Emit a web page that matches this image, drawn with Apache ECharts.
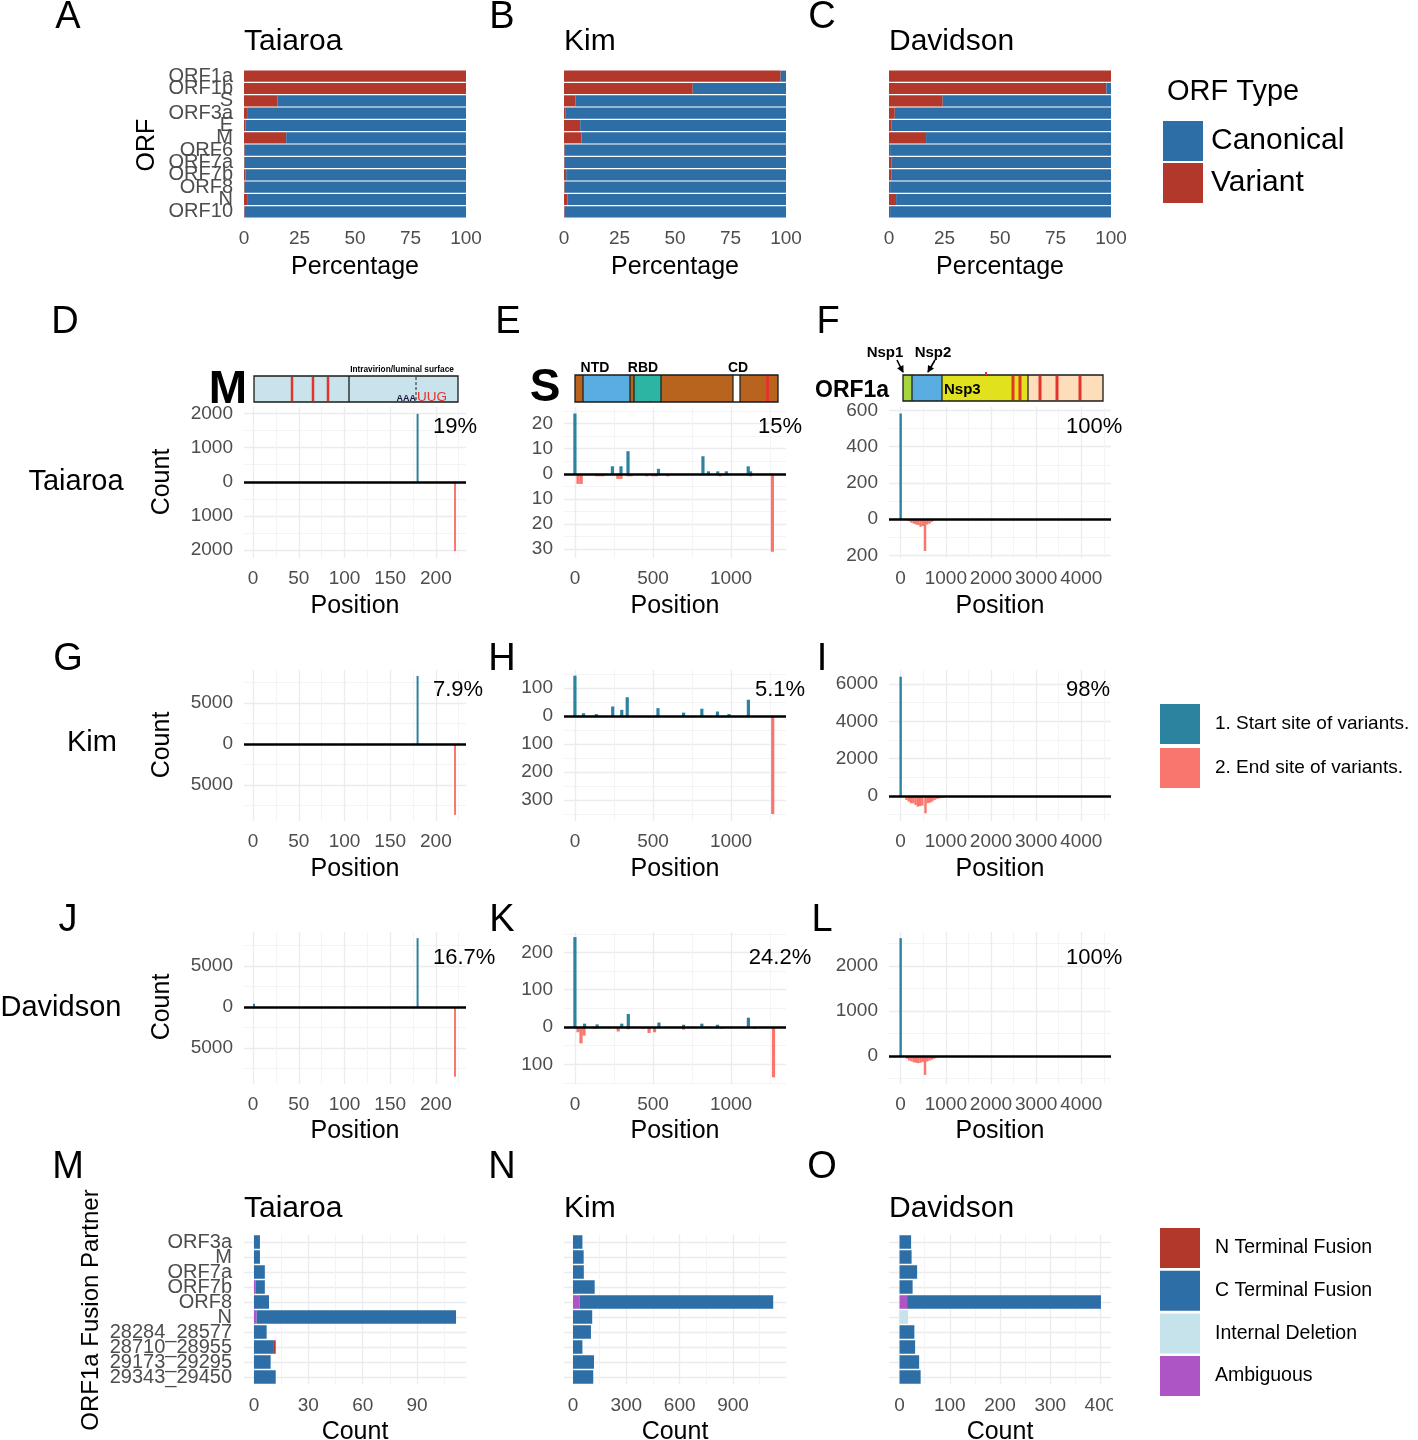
<!DOCTYPE html>
<html>
<head>
<meta charset="utf-8">
<script src="https://cdn.jsdelivr.net/npm/echarts@6/dist/echarts.min.js"></script>
<style>html,body{margin:0;padding:0;background:#fff}#chart{width:1418px;height:1440px}</style>
</head>
<body>
<div id="chart"></div>
<script>
// ---------------- DATA ----------------
const strainNames = ['Taiaroa', 'Kim', 'Davidson'];
const panelLetters = ['A','B','C','D','E','F','G','H','I','J','K','L','M','N','O'];
const orfCategories = ['ORF1a','ORF1b','S','ORF3a','E','M','ORF6','ORF7a','ORF7b','ORF8','N','ORF10'];
const percentTicks = [0, 25, 50, 75, 100];

const variantTaiaroa   = [100, 100, 15, 1.4, 0.6, 19, 0.3, 0.3, 0.6, 0.3, 1.4, 0.3];
const canonicalTaiaroa = [0, 0, 85, 98.6, 99.4, 81, 99.7, 99.7, 99.4, 99.7, 98.6, 99.7];
const variantKim       = [97.6, 58, 5.1, 0.8, 7.3, 7.9, 0.3, 0.3, 1, 0.3, 1.5, 0.3];
const canonicalKim     = [2.4, 42, 94.9, 99.2, 92.7, 92.1, 99.7, 99.7, 99, 99.7, 98.5, 99.7];
const variantDavidson  = [100, 97.9, 24.2, 2.6, 1.2, 16.7, 0.5, 1.2, 1.2, 0.5, 3.2, 0.5];
const canonicalDavidson= [0, 2.1, 75.8, 97.4, 98.8, 83.3, 99.5, 98.8, 98.8, 99.5, 96.8, 99.5];

// position panels: [position, count]; end sites drawn downward (negative)
const mStartTaiaroa = [[180, 1990]];
const mEndTaiaroa   = [[221, -2030]];
const sStartTaiaroa = [[0,24],[240,3],[295,3],[340,9],[535,2],[820,7],[855,1],[915,1],[970,1],[1110,3],[1125,1]];
const sEndTaiaroa   = [[20,-4],[40,-4],[140,-1],[160,-1],[180,-1],[275,-2],[295,-2],[340,-1],[360,-1],[460,-1],[500,-1],[520,-1],[595,-1],[930,-1],[1125,-1],[1265,-31]];
const orf1aStartTaiaroa = [[0, 583]];
const orf1aEndTaiaroa   = [[140,-6],[190,-12],[240,-20],[290,-25],[340,-30],[390,-33],[440,-43],[490,-38],[540,-176],[590,-30],[640,-25],[690,-15],[740,-8]];

const mStartKim = [[180, 8300]];
const mEndKim   = [[221, -8650]];
const sStartKim = [[0,144],[55,10],[137,7],[242,34],[300,22],[335,67],[532,28],[696,12],[813,26],[913,16],[987,7],[1111,58]];
const sEndKim   = [[20,-3],[253,-3],[360,-3],[475,-5],[940,-4],[1267,-350]];
const orf1aStartKim = [[0, 6390]];
const orf1aEndKim   = [[130,-214],[180,-300],[230,-390],[280,-390],[330,-480],[380,-570],[430,-540],[480,-510],[550,-930],[600,-380],[650,-360],[700,-300],[750,-214],[800,-150],[850,-125],[900,-110],[950,-100]];

const mStartDavidson = [[1, 400], [180, 8400]];
const mEndDavidson   = [[221, -8500]];
const sStartDavidson = [[0,241],[62,9],[142,7],[300,9],[342,35],[538,12],[696,6],[813,9],[913,6],[1111,25]];
const sEndDavidson   = [[20,-14],[39,-44],[58,-23],[125,-5],[277,-12],[342,-6],[435,-5],[475,-16],[510,-14],[696,-7],[941,-5],[1151,-5],[1272,-135]];
const orf1aStartDavidson = [[0, 2620]];
const orf1aEndDavidson   = [[140,-60],[190,-100],[240,-120],[290,-140],[340,-150],[390,-160],[440,-150],[490,-130],[540,-420],[590,-120],[640,-100],[690,-80],[740,-60],[790,-40]];

const percentLabels = [['19%','15%','100%'], ['7.9%','5.1%','98%'], ['16.7%','24.2%','100%']];

// tick values
const mPosMajor = [0,50,100,150,200],        mPosMinor = [25,75,125,175,225];
const sPosMajor = [0,500,1000],               sPosMinor = [250,750,1250];
const orf1aPosMajor = [0,1000,2000,3000,4000], orf1aPosMinor = [500,1500,2500,3500,4500];
const countMajorD = [-2000,-1000,0,1000,2000], countMinorD = [-1500,-500,500,1500];
const countMajorE = [-30,-20,-10,0,10,20],     countMinorE = [-25,-15,-5,5,15,25];
const countMajorF = [-200,0,200,400,600],      countMinorF = [-100,100,300,500];
const countMajorG = [-5000,0,5000],            countMinorG = [-7500,-2500,2500,7500];
const countMajorH = [-300,-200,-100,0,100],    countMinorH = [-350,-250,-150,-50,50,150];
const countMajorI = [0,2000,4000,6000],        countMinorI = [-1000,1000,3000,5000];
const countMajorJ = [-5000,0,5000],            countMinorJ = [-7500,-2500,2500,7500];
const countMajorK = [-100,0,100,200],          countMinorK = [-150,-50,50,150,250];
const countMajorL = [0,1000,2000],             countMinorL = [-500,500,1500,2500];

// fusion partners
const fusionCategories = ['ORF3a','M','ORF7a','ORF7b','ORF8','N','28284_28577','28710_28955','29173_29295','29343_29450'];
const fusionRowCenters = [0.5,1.5,2.5,3.5,4.5,5.5,6.5,7.5,8.5,9.5];
const ambiguousTaiaroa = [0,0,0,1,0,1.5,0,0,0,0];
const internalTaiaroa  = [0,0,0,0,0,0,0,0,0,0];
const cTermTaiaroa     = [3.3,3.3,6,5,8.3,110,7,11,9.2,12];
const nTermTaiaroa     = [0,0,0,0,0,0,0,1,0,0];
const ambiguousKim = [0,0,0,0,36,0,0,0,0,0];
const internalKim  = [0,0,0,0,0,0,0,0,0,0];
const cTermKim     = [53,60,58,122,1090,108,101,53,118,114];
const nTermKim     = [0,0,4,0,0,0,0,0,0,0];
const ambiguousDavidson = [0,0,0,0,15,0,0,0,0,0];
const internalDavidson  = [0,0,0,0,0,17,0,0,0,0];
const cTermDavidson     = [23,24,35,26,386,0,29.5,31,39,42];
const nTermDavidson     = [0,0,0,0,0,0,0,0,0,0];
const fusionMajorM = [0,30,60,90],        fusionMinorM = [15,45,75,105];
const fusionMajorN = [0,300,600,900],     fusionMinorN = [150,450,750,1050];
const fusionMajorO = [0,100,200,300,400], fusionMinorO = [50,150,250,350];

// ---------------- STYLE ----------------
const FONT = '"Liberation Sans", Arial, Helvetica, sans-serif';
const VARIANT = '#B3382C', CANON = '#2E6EA6', START = '#2B83A0', END = '#F8766D';
const NTERM = '#B3382C', CTERM = '#2E6EA6', INTDEL = '#C6E2EA', AMBIG = '#AD55C4';
const START_NAME = '1. Start site of variants.', END_NAME = '2. End site of variants.';
const COLS = [244, 564, 889];
const W = 222;
const MAJOR = {color: '#EBEBF0', width: 1.3};
const MINOR = {color: '#F3F3F6', width: 0.9};

const grids = [], xAxes = [], yAxes = [], series = [];

function addGrid(left, top, height) {
  grids.push({left: left, top: top, width: W, height: height, containLabel: false, outerBoundsMode: 'none'});
  return grids.length - 1;
}

function valueAxis(list, g, range, major, minor, labelOpts) {
  list.push({
    gridIndex: g, type: 'value', min: range[0], max: range[1],
    axisLine: {show: false},
    axisTick: {show: false, customValues: major},
    axisLabel: Object.assign({show: true, customValues: major, color: '#4D4D4D', fontSize: 19,
      fontFamily: FONT, hideOverlap: false, formatter: function (v) { return String(Math.abs(v)); }}, labelOpts || {}),
    splitLine: {show: true, lineStyle: MAJOR}
  });
  const main = list.length - 1;
  if (minor && minor.length) {
    list.push({
      gridIndex: g, type: 'value', min: range[0], max: range[1],
      axisLine: {show: false}, axisLabel: {show: false},
      axisTick: {show: false, customValues: minor},
      splitLine: {show: true, lineStyle: MINOR}
    });
  }
  return main;
}

// ---- A-C: ORF type percentage ----
function orfPanel(col, variant, canonical) {
  const g = addGrid(COLS[col], 70, 148);
  xAxes.push({gridIndex: g, type: 'value', min: 0, max: 100, interval: 25,
    axisLine: {show: false}, axisTick: {show: false}, splitLine: {show: false},
    axisLabel: {color: '#4D4D4D', fontSize: 19, fontFamily: FONT, margin: 11,
      customValues: percentTicks}});
  const xi = xAxes.length - 1;
  yAxes.push({gridIndex: g, type: 'category', data: orfCategories, inverse: true,
    axisLine: {show: false}, axisTick: {show: false}, splitLine: {show: false},
    axisLabel: {show: col === 0, color: '#4D4D4D', fontSize: 20, fontFamily: FONT, margin: 11, interval: 0,
      padding: [3, 0, 0, 0]}});
  const yi = yAxes.length - 1;
  series.push({type: 'bar', name: 'Variant', stack: 'orf' + col, xAxisIndex: xi, yAxisIndex: yi,
    data: variant, barCategoryGap: '10%', itemStyle: {color: VARIANT}});
  series.push({type: 'bar', name: 'Canonical', stack: 'orf' + col, xAxisIndex: xi, yAxisIndex: yi,
    data: canonical, barCategoryGap: '10%', itemStyle: {color: CANON}});
}
orfPanel(0, variantTaiaroa, canonicalTaiaroa);
orfPanel(1, variantKim, canonicalKim);
orfPanel(2, variantDavidson, canonicalDavidson);

// ---- D-L: start / end positions ----
function posPanel(col, top, height, xr, yr, xMaj, xMin, yMaj, yMin, starts, ends, bw) {
  const g = addGrid(COLS[col], top, height);
  const xi = valueAxis(xAxes, g, xr, xMaj, xMin, {margin: 11});
  const yi = valueAxis(yAxes, g, yr, yMaj, yMin, {margin: 11, padding: [4, 0, 0, 0]});
  series.push({type: 'bar', name: START_NAME, xAxisIndex: xi, yAxisIndex: yi, data: starts,
    barWidth: bw, barGap: '-100%', itemStyle: {color: START}, z: 3,
    markLine: {silent: true, symbol: ['none', 'none'], label: {show: false}, z: 6,
      lineStyle: {color: '#000', width: 2.6, type: 'solid'}, emphasis: {disabled: true},
      data: [{yAxis: 0}]}});
  series.push({type: 'bar', name: END_NAME, xAxisIndex: xi, yAxisIndex: yi, data: ends,
    barWidth: bw, barGap: '-100%', itemStyle: {color: END}, z: 3});
}
const MX = [-10, 233], SX = [-70, 1352], OX = [-258, 4658];
posPanel(0, 407, 151, MX, [-2230, 2190], mPosMajor, mPosMinor, countMajorD, countMinorD, mStartTaiaroa, mEndTaiaroa, 2);
posPanel(1, 407, 151, SX, [-33.5, 26.6], sPosMajor, sPosMinor, countMajorE, countMinorE, sStartTaiaroa, sEndTaiaroa, 3.2);
posPanel(2, 407, 151, OX, [-215, 619], orf1aPosMajor, orf1aPosMinor, countMajorF, countMinorF, orf1aStartTaiaroa, orf1aEndTaiaroa, 2.4);
posPanel(0, 670, 151, MX, [-9390, 9024], mPosMajor, mPosMinor, countMajorG, countMinorG, mStartKim, mEndKim, 2);
posPanel(1, 670, 151, SX, [-375, 164.3], sPosMajor, sPosMinor, countMajorH, countMinorH, sStartKim, sEndKim, 3.2);
posPanel(2, 670, 151, OX, [-1339, 6749], orf1aPosMajor, orf1aPosMinor, countMajorI, countMinorI, orf1aStartKim, orf1aEndKim, 2.4);
posPanel(0, 932, 152, MX, [-9390, 9146], mPosMajor, mPosMinor, countMajorJ, countMinorJ, mStartDavidson, mEndDavidson, 2);
posPanel(1, 932, 152, SX, [-152.8, 254.7], sPosMajor, sPosMinor, countMajorK, countMinorK, sStartDavidson, sEndDavidson, 3.2);
posPanel(2, 932, 152, OX, [-622, 2756], orf1aPosMajor, orf1aPosMinor, countMajorL, countMinorL, orf1aStartDavidson, orf1aEndDavidson, 2.4);

// ---- M-O: fusion partners ----
function fusionPanel(col, xr, xMaj, xMin, amb, intl, cterm, nterm) {
  const g = addGrid(COLS[col], 1234.5, 150);
  const xi = valueAxis(xAxes, g, xr, xMaj, xMin, {margin: 12});
  yAxes.push({gridIndex: g, type: 'category', data: fusionCategories, inverse: true,
    axisLine: {show: false}, axisTick: {show: false}, splitLine: {show: false},
    axisLabel: {show: col === 0, color: '#4D4D4D', fontSize: 20, fontFamily: FONT, margin: 12, interval: 0,
      padding: [3, 0, 0, 0]}});
  const yi = yAxes.length - 1;
  yAxes.push({gridIndex: g, type: 'value', min: 0, max: 10,
    axisLine: {show: false}, axisLabel: {show: false},
    axisTick: {show: false, customValues: fusionRowCenters},
    splitLine: {show: true, lineStyle: MAJOR}});
  const parts = [['Ambiguous', amb, AMBIG], ['Internal Deletion', intl, INTDEL],
                 ['C Terminal Fusion', cterm, CTERM], ['N Terminal Fusion', nterm, NTERM]];
  parts.forEach(function (p) {
    series.push({type: 'bar', name: p[0], stack: 'fus' + col, xAxisIndex: xi, yAxisIndex: yi,
      data: p[1], barCategoryGap: '10%', itemStyle: {color: p[2]}, z: 3});
  });
}
fusionPanel(0, [-5.5, 117], fusionMajorM, fusionMinorM, ambiguousTaiaroa, internalTaiaroa, cTermTaiaroa, nTermTaiaroa);
fusionPanel(1, [-50.6, 1198], fusionMajorN, fusionMinorN, ambiguousKim, internalKim, cTermKim, nTermKim);
fusionPanel(2, [-21, 421], fusionMajorO, fusionMinorO, ambiguousDavidson, internalDavidson, cTermDavidson, nTermDavidson);

// ---------------- GRAPHIC (labels, domain diagrams) ----------------
const G = [];
function txt(x, y, text, size, o) {
  o = o || {};
  const d = size * 0.07;           // optical centring of glyphs
  const rot = o.rot || 0;
  if (rot) { x += d; } else { y += d; }
  G.push({type: 'text', x: x, y: y, rotation: rot, z: 20, silent: true,
    style: {text: text, fontSize: size, fontFamily: FONT, fontWeight: o.bold ? 'bold' : 'normal',
      fill: o.color || '#000', textAlign: o.align || 'left', align: o.align || 'left',
      textVerticalAlign: 'middle', verticalAlign: 'middle'}});
}
function rect(x, y, w, h, fill, stroke, lw) {
  G.push({type: 'rect', z: 18, silent: true, shape: {x: x, y: y, width: w, height: h},
    style: {fill: fill || 'none', stroke: stroke || null, lineWidth: lw || 0}});
}
function line(x1, y1, x2, y2, stroke, lw, dash) {
  G.push({type: 'line', z: 19, silent: true, shape: {x1: x1, y1: y1, x2: x2, y2: y2},
    style: {stroke: stroke, lineWidth: lw, lineDash: dash || null}});
}
function arrow(x1, y1, x2, y2) {
  line(x1, y1, x2, y2, '#000', 1.6);
  const dx = x2 - x1, dy = y2 - y1, L = Math.sqrt(dx * dx + dy * dy);
  const ux = dx / L, uy = dy / L, px = -uy, py = ux;
  const bx = x2 - 6 * ux, by = y2 - 6 * uy;
  G.push({type: 'polygon', z: 19, silent: true,
    shape: {points: [[x2 + ux, y2 + uy], [bx + 3.5 * px, by + 3.5 * py], [bx - 3.5 * px, by - 3.5 * py]]},
    style: {fill: '#000'}});
}

// panel letters
const letterPos = [[68,15],[502,15],[822,15],[65,320],[508,320],[828,320],[68,657],[502,657],[822,657],
                   [68,918],[502,918],[822,918],[68,1165],[502,1165],[822,1165]];
panelLetters.forEach(function (l, i) { txt(letterPos[i][0], letterPos[i][1], l, 38, {align: 'center'}); });

// titles
strainNames.forEach(function (s, i) {
  txt(COLS[i], 40, s, 30);
  txt(COLS[i], 1207, s, 30);
  txt(COLS[i] + W / 2, 265, 'Percentage', 25, {align: 'center'});
  txt(COLS[i] + W / 2, 604, 'Position', 25, {align: 'center'});
  txt(COLS[i] + W / 2, 867, 'Position', 25, {align: 'center'});
  txt(COLS[i] + W / 2, 1129, 'Position', 25, {align: 'center'});
  txt(COLS[i] + W / 2, 1430, 'Count', 25, {align: 'center'});
});
txt(145, 145, 'ORF', 25, {align: 'center', rot: Math.PI / 2});
[482, 745, 1007].forEach(function (y) { txt(160, y, 'Count', 25, {align: 'center', rot: Math.PI / 2}); });
txt(90, 1310, 'ORF1a Fusion Partner', 24, {align: 'center', rot: Math.PI / 2});
txt(76, 480, strainNames[0], 29, {align: 'center'});
txt(92, 741, strainNames[1], 29, {align: 'center'});
txt(61, 1006, strainNames[2], 29, {align: 'center'});

// percent annotations
[425, 688, 956].forEach(function (y, r) {
  txt(433, y, percentLabels[r][0], 22);
  txt(780, y, percentLabels[r][1], 22, {align: 'center'});
  txt(1066, y, percentLabels[r][2], 22);
});

// M protein diagram
txt(228, 387, 'M', 46, {bold: true, align: 'center'});
rect(254, 376, 204, 26, '#C9E3EC', '#1a1a1a', 1.3);
[292, 313, 328].forEach(function (x) { line(x, 377, x, 401, '#E3342B', 2.5); });
line(349, 376, 349, 402, '#1a1a1a', 1.3);
line(416, 377, 416, 401, '#222', 1, [3, 2]);
txt(402, 369, 'Intravirion/luminal surface', 8.3, {bold: true, align: 'center'});
txt(416, 398, 'AAA', 9, {bold: true, align: 'right', color: '#1a1a3a'});
txt(417, 396, 'UUG', 13.5, {color: '#E3342B'});

// S protein diagram
txt(545, 385, 'S', 46, {bold: true, align: 'center'});
[[575, 583, '#B8641F'], [583, 630, '#5AADE0'], [630, 634, '#B8641F'], [634, 661, '#2DB5A3'],
 [661, 733, '#B8641F'], [733, 740, '#FFFFFF'], [740, 778, '#B8641F']].forEach(function (s) {
  rect(s[0], 375, s[1] - s[0], 27, s[2]);
});
rect(575, 375, 203, 27, 'none', '#1a1a1a', 1.3);
[583, 630, 634, 661, 733, 740].forEach(function (x) { line(x, 375, x, 402, '#1a1a1a', 1.2); });
line(767.5, 376, 767.5, 401, '#E3342B', 3);
txt(595, 367, 'NTD', 14, {bold: true, align: 'center'});
txt(643, 367, 'RBD', 14, {bold: true, align: 'center'});
txt(738, 367, 'CD', 14, {bold: true, align: 'center'});

// ORF1a diagram
txt(815, 389, 'ORF1a', 23, {bold: true});
[[903, 912, '#A7D53D'], [912, 942, '#5AADE0'], [942, 1028, '#E1E21D'], [1028, 1103, '#FDDDBA']].forEach(function (s) {
  rect(s[0], 375, s[1] - s[0], 26, s[2]);
});
rect(903, 375, 200, 26, 'none', '#1a1a1a', 1.3);
[912, 942, 1028].forEach(function (x) { line(x, 375, x, 401, '#1a1a1a', 1.2); });
[1013, 1020, 1040, 1057, 1080].forEach(function (x) { line(x, 376, x, 400, '#E3342B', 3); });
rect(985, 372, 2, 3, '#E3342B');
txt(944, 389, 'Nsp3', 15, {bold: true});
txt(885, 352, 'Nsp1', 15, {bold: true, align: 'center'});
txt(933, 352, 'Nsp2', 15, {bold: true, align: 'center'});
arrow(897, 360, 903, 372);
arrow(935, 360, 928, 372);

// legend title
txt(1167, 90, 'ORF Type', 29);

// clip of the last tick label of panel O, as in the reference
rect(1113, 1394, 40, 24, '#ffffff');

// ---------------- OPTION ----------------
const option = {
  animation: false,
  backgroundColor: '#ffffff',
  textStyle: {fontFamily: FONT},
  grid: grids,
  xAxis: xAxes,
  yAxis: yAxes,
  series: series,
  legend: [
    {data: ['Canonical', 'Variant'], orient: 'vertical', left: 1163, top: 121, padding: 0,
      itemWidth: 40, itemHeight: 40, itemGap: 2, icon: 'rect', selectedMode: false,
      textStyle: {fontSize: 30, color: '#000', fontFamily: FONT, padding: [4, 0, 0, 3]}},
    {data: [START_NAME, END_NAME], orient: 'vertical', left: 1160, top: 704, padding: 0,
      itemWidth: 40, itemHeight: 40, itemGap: 4, icon: 'rect', selectedMode: false,
      textStyle: {fontSize: 19, color: '#000', fontFamily: FONT, padding: [3, 0, 0, 10]}},
    {data: ['N Terminal Fusion', 'C Terminal Fusion', 'Internal Deletion', 'Ambiguous'], orient: 'vertical',
      left: 1160, top: 1228, padding: 0, itemWidth: 40, itemHeight: 40, itemGap: 2.7, icon: 'rect',
      selectedMode: false,
      textStyle: {fontSize: 19.5, color: '#000', fontFamily: FONT, padding: [3, 0, 0, 10]}}
  ],
  graphic: {elements: G}
};
const chart = echarts.init(document.getElementById('chart'), null, {renderer: 'canvas', width: 1418, height: 1440});
chart.setOption(option);
</script>
</body>
</html>
